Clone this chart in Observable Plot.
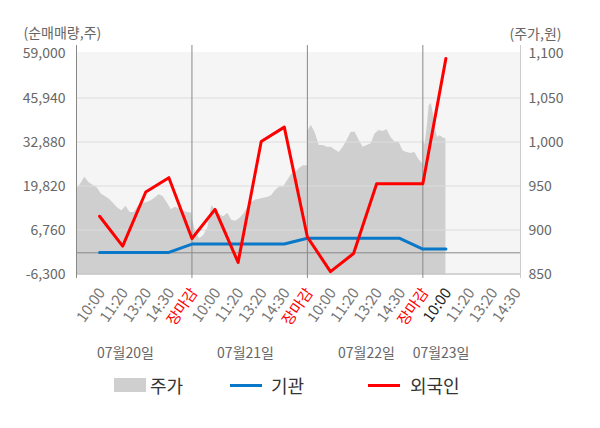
<!DOCTYPE html>
<html><head><meta charset="utf-8">
<script src="https://cdn.jsdelivr.net/npm/d3@7"></script>
<script src="https://cdn.jsdelivr.net/npm/@observablehq/plot@0.6"></script>
<style>
body{margin:0;background:#fff;font-family:"Noto Sans CJK KR","Noto Sans",sans-serif;}
#legend{position:relative;width:600px;height:63px;font-size:18px;color:#333;}
#legend .sw{position:absolute;}
#legend .lb{position:absolute;top:7px;line-height:26px;}
</style></head><body>
<div id="chart"></div>
<div id="legend"></div>
<script>
// ---- data ----
const slotLabels = ["10:00", "11:20", "13:20", "14:30", "장마감"];
const dayLabels = ["07월20일", "07월21일", "07월22일", "07월23일"];
const dayLabelPos = [1.12, 6.32, 11.56, 14.79];
const leftTicks = [-6300, 6760, 19820, 32880, 45940, 59000];
const priceTicks = [850, 900, 950, 1000, 1050, 1100];
// net buying (shares) at each time slot, day1 10:00 ... day4 10:00
const foreign = [10850, 2000, 18050, 22300, 4250, 12900, -2850, 33050, 37300, 4700, -5600, -200, 20500, 20500, 20500, 57700];
const institution = [100, 100, 100, 100, 2600, 2600, 2600, 2600, 2600, 4300, 4300, 4300, 4300, 4300, 1100, 1100];
// share price (won), intraday samples per day
const priceDay1 = [946, 952, 960, 954, 951, 948, 941, 938, 935, 930, 925, 922, 927, 920, 920, 927, 930, 931, 933, 936, 940, 938, 931, 923, 926, 924, 921, 920, 919];
const priceDay2 = [915, 896, 890, 894, 903, 928, 922, 917, 915, 919, 911, 910, 913, 918, 925, 931, 934, 935, 936, 937, 939, 945, 949, 949, 956, 963, 965, 970, 973, 973];
const priceDay3 = [1011, 1019, 1010, 996, 996, 994, 994, 991, 988, 994, 1002, 1011, 1011, 1002, 994, 996, 998, 1009, 1013, 1012, 1014, 1005, 1000, 1000, 990, 988, 987, 988, 980, 975];
const priceDay4 = [1004, 996, 1015, 1041, 1044, 1032, 1015, 1005, 1007, 1006, 1004, 1004];

// ---- derived ----
const pMin = 850, pMax = 1100, vMin = -6300, vMax = 59000;
const toY = p => vMin + (p - pMin) / (pMax - pMin) * (vMax - vMin);
const fromY = v => pMin + (v - vMin) / (vMax - vMin) * (pMax - pMin);
const days = [priceDay1, priceDay2, priceDay3];
const priceData = [];
days.forEach((arr, d) => arr.forEach((p, k) => priceData.push({i: 5 * d - 1 + 5 * k / (arr.length - 1), p})));
priceDay4.forEach((p, k) => priceData.push({i: 14 + k / (priceDay4.length - 1), p}));
const flowF = foreign.map((v, i) => ({i, v}));
const flowI = institution.map((v, i) => ({i, v}));
const slots = d3.range(19);
const xEnd = 18.23;
const fmt = d3.format(",");
const fmtL = d => d < 0 ? "-" + fmt(-d) : fmt(d);

const axisXOpts = (fill) => ({tickSize: 0, tickRotate: -55, tickPadding: 8, dx: -2.5, textAnchor: "end", lineAnchor: "top",
  tickFormat: i => slotLabels[i % 5], fill, fontSize: 15, label: null});

const chart = Plot.plot({
  width: 600, height: 365,
  marginTop: 45, marginBottom: 87, marginLeft: 76, marginRight: 80,
  x: {type: "linear", domain: [-1, xEnd]},
  y: {type: "linear", domain: [-7628, 61527]},
  style: {fontFamily: '"Noto Sans CJK KR","Noto Sans",sans-serif', fontSize: "14px", color: "#666", background: "transparent", overflow: "visible"},
  marks: [
    Plot.rect([0], {x1: -1, x2: xEnd, y1: vMin, y2: vMax, fill: "#f5f5f5", insetTop: -1.5}),
    Plot.area(priceData, {x1: "i", y1: () => vMin, y2: d => toY(d.p), fill: "#cfcfcf"}),
    Plot.ruleY([6760, 19820, 32880, 45940], {x1: -1, x2: xEnd, stroke: "#dcdcdc"}),
    Plot.ruleY([0], {x1: -1, x2: xEnd, stroke: "#888"}),
    Plot.ruleY([vMin], {x1: -1, x2: xEnd, stroke: "#aaa"}),
    Plot.ruleX([-1, 4, 9, 14], {stroke: "#888"}),
    Plot.ruleX([xEnd], {stroke: "#ccc"}),
    Plot.line(flowI, {x: "i", y: "v", stroke: "#0a78c8", strokeWidth: 3}),
    Plot.line(flowF, {x: "i", y: "v", stroke: "#ff0000", strokeWidth: 3}),
    Plot.axisY(leftTicks, {anchor: "left", tickSize: 0, tickPadding: 11, tickFormat: fmtL, fill: "#666", fontSize: 14, label: null}),
    Plot.axisY(priceTicks.map(toY), {anchor: "right", tickSize: 0, tickPadding: 8, tickFormat: v => fmt(Math.round(fromY(v))), fill: "#666", fontSize: 14, label: null}),
    Plot.axisX(slots.filter(i => i % 5 !== 4 && i !== 15), axisXOpts("#777")),
    Plot.axisX(slots.filter(i => i % 5 === 4), axisXOpts("#ff0000")),
    Plot.axisX([15], axisXOpts("#222")),
    Plot.text(dayLabels, {x: (d, i) => dayLabelPos[i], frameAnchor: "bottom", dy: 75, lineAnchor: "middle", fill: "#666", fontSize: 14}),
    Plot.text(["(순매매량,주)"], {frameAnchor: "top-left", dx: -53, dy: -12, textAnchor: "start", lineAnchor: "middle", fill: "#666", fontSize: 14}),
    Plot.text(["(주가,원)"], {frameAnchor: "top-right", dx: -11, dy: -11, textAnchor: "start", lineAnchor: "middle", fill: "#666", fontSize: 14})
  ]
});
document.getElementById("chart").appendChild(chart);

// legend
const legendItems = [
  {name: "주가", type: "rect", color: "#cfcfcf", sx: 114, tx: 150},
  {name: "기관", type: "line", color: "#0a78c8", sx: 230, tx: 271},
  {name: "외국인", type: "line", color: "#ff0000", sx: 368, tx: 410}
];
const lg = document.getElementById("legend");
legendItems.forEach(it => {
  const sw = document.createElement("div");
  sw.className = "sw";
  sw.style.left = it.sx + "px";
  sw.style.width = "32px";
  sw.style.background = it.color;
  if (it.type === "rect") { sw.style.top = "13px"; sw.style.height = "14px"; }
  else { sw.style.top = "19px"; sw.style.height = "3px"; }
  lg.appendChild(sw);
  const lb = document.createElement("div");
  lb.className = "lb";
  lb.style.left = it.tx + "px";
  lb.textContent = it.name;
  lg.appendChild(lb);
});
</script>
</body></html>
